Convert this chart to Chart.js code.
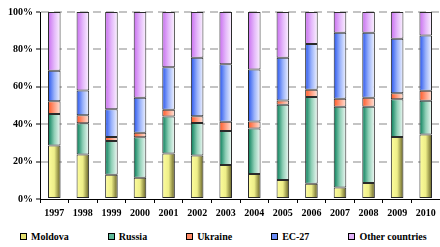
<!DOCTYPE html>
<html>
<head>
<meta charset="utf-8">
<script src="https://cdn.jsdelivr.net/npm/chart.js@4"></script>
<style>
html,body{margin:0;padding:0;background:#fff}
#wrap{width:440px;height:247px;position:relative}
#legend{position:absolute;left:20px;top:225px;height:22px;display:flex;align-items:center;gap:39px;
font:bold 10px 'Liberation Serif','Times New Roman',serif;color:#000;white-space:nowrap}
#legend span.item{display:flex;align-items:center}
#legend span.box{display:inline-block;width:5px;height:5px;border:1px solid #000;margin-right:4px}
</style>
</head>
<body>
<div id="wrap"><canvas id="c" width="440" height="225"></canvas><div id="legend"></div></div>
<script>
// DATA (% share per year)

const years=["1997","1998","1999","2000","2001","2002","2003","2004","2005","2006","2007","2008","2009","2010"]

const moldova=[28.6,23.8,13,11.3,24.3,23.2,18.2,13.4,10.2,8.2,6.1,8.6,33.2,34.5]
const russia=[16.9,16.7,18,21.7,19.8,17.5,18.2,24.3,40.2,46.3,43.2,40.7,20.2,18]
const ukraine=[6.8,4.3,2.2,2.4,3.6,3.6,4.9,3.8,2.3,3.9,4.3,4.8,3.2,5.4]
const ec27=[16.3,13.2,14.8,18.7,22.7,31.2,30.7,27.8,22.8,24.5,35.3,34.8,29.1,29.6]
const other=[31.4,42,52,45.9,29.6,24.5,28,30.7,24.5,17.1,11.1,11.1,14.3,12.5]

const yTicks=[0,20,40,60,80,100]

const BAR_PCT=0.44

// gradient colours: left -> middle -> right
const fills={
"Moldova":["#fdfd9e","#eeee88","#5e5a22"],
"Russia":["#007a55","#8fcfb6","#f4faf7"],
"Ukraine":["#ff5522","#ff9f82","#ffe6dc"],
"EC-27":["#2452ee","#9ab2fa","#f4f6ff"],
"Other countries":["#c86cf0","#e4b8fa","#fcf5ff"]
}
const legendFill={"Moldova":"#e4e070","Russia":"#5fb898","Ukraine":"#ff8a66","EC-27":"#6a8cf6","Other countries":"#e0b0f8"}

// horizontal gradient on every bar, set once the bars have their positions
const gradientPlugin={
id:"barGradient",
beforeDatasetsDraw(chart){
const ctx=chart.ctx
chart.data.datasets.forEach((d,i)=>{
const stops=fills[d.label]
chart.getDatasetMeta(i).data.forEach(el=>{
const l=el.x-el.width/2,r=el.x+el.width/2
if(!isFinite(l)||!isFinite(r)) return
const g=ctx.createLinearGradient(l,0,r,0)
g.addColorStop(0,stops[0])
g.addColorStop(0.5,stops[1])
g.addColorStop(1,stops[2])
el.options.backgroundColor=g
})
})
}
}

function ds(name,data){
return{
label:name,
data:data,
backgroundColor:()=>fills[name][1],
borderColor:"#2a2a2a",
borderWidth:1,
borderSkipped:false,
barPercentage:BAR_PCT,
categoryPercentage:1
}
}

const font={family:"'Liberation Serif', 'Times New Roman', serif",weight:"bold",size:10}

const chart=new Chart(document.getElementById("c"),{
type:"bar",
data:{
labels:years,
datasets:[
ds("Moldova",moldova),
ds("Russia",russia),
ds("Ukraine",ukraine),
ds("EC-27",ec27),
ds("Other countries",other)
]
},
plugins:[gradientPlugin],
options:{
responsive:false,
animation:false,
layout:{padding:{top:12,right:0,left:0,bottom:2}},
plugins:{
tooltip:{enabled:false},
legend:{display:false}
},
scales:{
x:{
stacked:true,
grid:{display:true,drawOnChartArea:false,color:"#000",tickLength:4,offset:true},
border:{color:"#000",width:1,z:1},
ticks:{font:font,color:"#000",padding:4,maxRotation:0}
},
y:{
stacked:true,
min:0,
max:100,
afterBuildTicks:s=>{s.ticks=yTicks.map(v=>({value:v}))},
afterFit:s=>{s.width=40},
grid:{
color:c=>c.tick&&c.tick.value===0?"rgba(0,0,0,0)":"#c4c4c4",
lineWidth:2,
tickColor:"#000",
tickWidth:1,
tickLength:4
},
border:{color:"#000",width:1,dash:[8,5],z:1},
ticks:{font:font,color:"#000",padding:3,callback:v=>v+"%"}
}
}
}
})

// LEGEND (html, fixed gaps like the original)

const legend=document.getElementById("legend")

chart.data.datasets.forEach(d=>{
const item=document.createElement("span")
item.className="item"
const box=document.createElement("span")
box.className="box"
box.style.background=legendFill[d.label]
item.appendChild(box)
item.appendChild(document.createTextNode(d.label))
legend.appendChild(item)
})
</script>
</body>
</html>
